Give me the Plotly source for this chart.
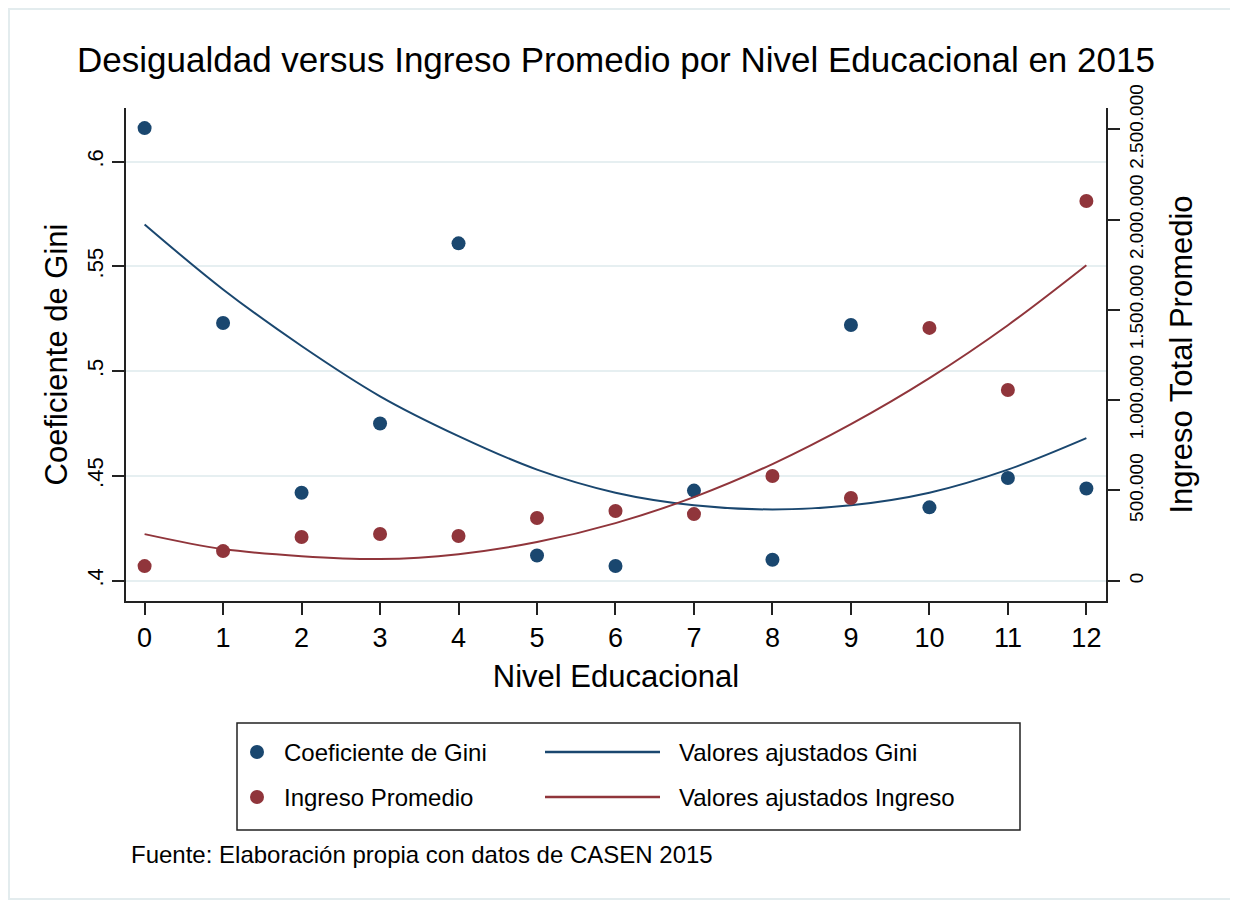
import plotly.graph_objects as go

# Nivel educacional (0-12)
niveles = list(range(13))

# Coeficiente de Gini por nivel educacional
gini = [0.616, 0.523, 0.442, 0.475, 0.561, 0.412, 0.407,
        0.443, 0.410, 0.522, 0.435, 0.449, 0.444]

# Ingreso total promedio por nivel educacional
ingreso = [81000, 164000, 242000, 259000, 248000, 347000, 386000,
           369000, 580000, 458000, 1400000, 1056000, 2103000]

# Valores ajustados (cuadraticos)
gini_ajustado = [0.570, 0.539, 0.512, 0.488, 0.469, 0.453, 0.442,
                 0.436, 0.434, 0.436, 0.442, 0.453, 0.468]
ingreso_ajustado = [258000, 175000, 136000, 120000, 147000, 214000, 319000,
                    463000, 646000, 867000, 1122000, 1415000, 1747000]

gini_ticks = [0.4, 0.45, 0.5, 0.55, 0.6]
gini_ticktext = [".4", ".45", ".5", ".55", ".6"]
ingreso_ticks = [0, 500000, 1000000, 1500000, 2000000, 2500000]
ingreso_ticktext = ["0", "500.000", "1.000.000", "1.500.000", "2.000.000", "2.500.000"]

AZUL = "#1a476f"
ROJO = "#90353b"
FONT = "Liberation Sans, Arial, sans-serif"

W, H = 1238, 902
OFF = 8  # margen del body de la pagina
L, R, T, B = 126 - OFF, 132 + OFF, 108 - OFF, 301 + OFF
PW, PH = W - L - R, H - T - B


def px(x):
    # pixel de pantalla -> coordenada paper
    return (x - OFF - L) / PW


def py(y):
    return (H - B - (y - OFF)) / PH


fig = go.Figure()
fig.add_trace(go.Scatter(x=niveles, y=gini, mode="markers", name="Coeficiente de Gini",
                         marker=dict(color=AZUL, size=14)))
fig.add_trace(go.Scatter(x=niveles, y=gini_ajustado, mode="lines", name="Valores ajustados Gini",
                         line=dict(color=AZUL, width=2, shape="spline")))
fig.add_trace(go.Scatter(x=niveles, y=ingreso, mode="markers", name="Ingreso Promedio",
                         marker=dict(color=ROJO, size=14), yaxis="y2"))
fig.add_trace(go.Scatter(x=niveles, y=ingreso_ajustado, mode="lines", name="Valores ajustados Ingreso",
                         line=dict(color=ROJO, width=2, shape="spline"), yaxis="y2"))

axis_common = dict(showline=True, linecolor="#222", linewidth=1.5, ticks="outside",
                   ticklen=12, tickwidth=1.5, tickcolor="#222", zeroline=False)

fig.update_layout(
    width=W, height=H,
    margin=dict(l=L, r=R, t=T, b=B),
    paper_bgcolor="white", plot_bgcolor="white",
    font=dict(family=FONT, color="black"),
    showlegend=False,
    title=dict(text="Desigualdad versus Ingreso Promedio por Nivel Educacional en 2015",
               xref="paper", x=px(616), xanchor="center", y=1 - (60 - OFF) / H, yanchor="middle",
               font=dict(size=35, color="black")),
    xaxis=dict(range=[-0.237, 12.25], tickvals=niveles, showgrid=False,
               tickfont=dict(size=27),
               title=dict(text="Nivel Educacional", font=dict(size=31), standoff=13),
               **axis_common),
    yaxis=dict(range=[0.3903, 0.6256], tickvals=gini_ticks, ticktext=gini_ticktext,
               tickangle=-90, tickfont=dict(size=22),
               showgrid=True, gridcolor="#e6eff1", gridwidth=2,
               title=dict(text="Coeficiente de Gini", font=dict(size=31), standoff=7),
               **axis_common),
    yaxis2=dict(range=[-112400, 2618000], tickvals=ingreso_ticks, ticktext=ingreso_ticktext,
                overlaying="y", side="right", tickangle=-90, tickfont=dict(size=19),
                showgrid=False,
                title=dict(text="Ingreso Total Promedio", font=dict(size=31), standoff=25),
                **axis_common),
)

# leyenda dibujada a mano (estilo Stata)
shapes = [
    dict(type="rect", xref="paper", yref="paper", x0=px(9), x1=px(1236), y0=py(899), y1=py(9),
         line=dict(color="#e3ecee", width=2)),
    dict(type="rect", xref="paper", yref="paper", x0=px(237), x1=px(1020), y0=py(830), y1=py(723),
         line=dict(color="#222", width=1.5)),
]
legend_rows = [
    ("Coeficiente de Gini", "Valores ajustados Gini", AZUL, 752),
    ("Ingreso Promedio", "Valores ajustados Ingreso", ROJO, 797),
]
annotations = []
for pts_label, fit_label, color, ypix in legend_rows:
    shapes.append(dict(type="circle", xref="paper", yref="paper",
                       x0=px(250), x1=px(264), y0=py(ypix + 7), y1=py(ypix - 7),
                       fillcolor=color, line=dict(color=color, width=0)))
    shapes.append(dict(type="line", xref="paper", yref="paper",
                       x0=px(545), x1=px(660), y0=py(ypix), y1=py(ypix),
                       line=dict(color=color, width=2.5)))
    annotations.append(dict(text=pts_label, xref="paper", yref="paper", x=px(282), y=py(ypix),
                            xanchor="left", yanchor="middle", showarrow=False,
                            font=dict(size=24)))
    annotations.append(dict(text=fit_label, xref="paper", yref="paper", x=px(677), y=py(ypix),
                            xanchor="left", yanchor="middle", showarrow=False,
                            font=dict(size=24)))

annotations.append(dict(text="Fuente: Elaboración propia con datos de CASEN 2015",
                        xref="paper", yref="paper", x=px(129), y=py(855),
                        xanchor="left", yanchor="middle", showarrow=False,
                        font=dict(size=24)))

fig.update_layout(shapes=shapes, annotations=annotations)

fig.write_html("out.html")
